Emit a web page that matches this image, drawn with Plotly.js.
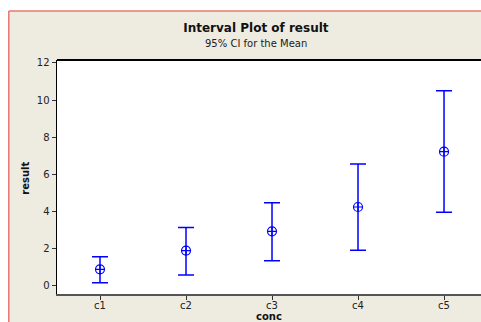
<!DOCTYPE html>
<html>
<head>
<meta charset="utf-8">
<script src="https://cdn.plot.ly/plotly-3.0.1.min.js"></script>
<style>html,body{margin:0;padding:0;background:#fff;}#chart{width:481px;height:322px;}</style>
</head>
<body>
<div id="chart"></div>
<script>
const categories = ["c1", "c2", "c3", "c4", "c5"];
const means = [0.88, 1.89, 2.93, 4.24, 7.22];
const upper = [1.56, 3.13, 4.47, 6.56, 10.5];
const lower = [0.16, 0.58, 1.35, 1.91, 3.96];
const yTicks = [0, 2, 4, 6, 8, 10, 12];

const plus = upper.map((u, i) => u - means[i]);
const minus = means.map((m, i) => m - lower[i]);

const trace = {
  type: "scatter",
  mode: "markers",
  x: categories,
  y: means,
  marker: {symbol: "circle-cross-open", size: 9, color: "#0000FF", line: {width: 1.2, color: "#0000FF"}},
  error_y: {type: "data", symmetric: false, array: plus, arrayminus: minus, color: "#0000FF", thickness: 1.5, width: 8},
  hoverinfo: "none",
  showlegend: false
};

const font = "DejaVu Sans, Verdana, sans-serif";
const layout = {
  width: 481, height: 322,
  margin: {l: 57, r: 0, t: 60, b: 28},
  paper_bgcolor: "#EEEBE1",
  plot_bgcolor: "#FFFFFF",
  font: {family: font, size: 10, color: "#222"},
  title: {text: "<b>Interval Plot of result</b>", x: 0.532, xanchor: "center", xref: "container", y: 0.913, yanchor: "middle", yref: "container", font: {family: font, size: 12, color: "#111"}},
  annotations: [
    {text: "95% CI for the Mean", xref: "paper", yref: "paper", x: 0.469, y: 1.0726, xanchor: "center", yanchor: "middle", showarrow: false, font: {family: font, size: 10, color: "#222"}},
    {text: "<b>result</b>", xref: "paper", yref: "paper", x: -0.0736, y: 0.496, xanchor: "center", yanchor: "middle", textangle: -90, showarrow: false, font: {family: font, size: 10, color: "#111"}}
  ],
  xaxis: {
    type: "category",
    categoryorder: "array", categoryarray: categories,
    range: [-0.5, 4.43],
    showgrid: false, zeroline: false,
    showline: true, linecolor: "#555", linewidth: 2,
    ticks: "outside", ticklen: 4, tickcolor: "#333", tickwidth: 1,
    ticklabelstandoff: -3,
    tickfont: {family: font, size: 10, color: "#222"},
    title: {text: "<b>conc</b>", font: {family: font, size: 10, color: "#111"}, standoff: 13},
    fixedrange: true
  },
  yaxis: {
    range: [-0.447, 12.16],
    tickvals: yTicks,
    showgrid: false, zeroline: false,
    showline: true, linecolor: "#000", linewidth: 1.5, mirror: true,
    ticks: "outside", ticklen: 4, tickcolor: "#333", tickwidth: 1,
    tickfont: {family: font, size: 10, color: "#222"},
    fixedrange: true
  },
  shapes: [
    {type: "line", xref: "paper", yref: "paper", x0: 0, x1: 1, y0: 1, y1: 1, line: {color: "#000", width: 2}},
    {type: "rect", xref: "paper", yref: "paper", x0: -0.2, x1: 1.1, y0: 1.2094, y1: 1.35, fillcolor: "#FFFFFF", line: {width: 0}, layer: "above"},
    {type: "rect", xref: "paper", yref: "paper", x0: -0.2, x1: -0.1137, y0: -0.2, y1: 1.35, fillcolor: "#FFFFFF", line: {width: 0}, layer: "above"},
    {type: "line", xref: "paper", yref: "paper", x0: -0.1137, x1: 1.1, y0: 1.2094, y1: 1.2094, line: {color: "#E8776E", width: 1.5}},
    {type: "line", xref: "paper", yref: "paper", x0: -0.1137, x1: -0.1137, y0: -0.2, y1: 1.2094, line: {color: "#E8776E", width: 1.5}}
  ]
};

Plotly.newPlot("chart", [trace], layout, {displayModeBar: false, staticPlot: true});
</script>
</body>
</html>
